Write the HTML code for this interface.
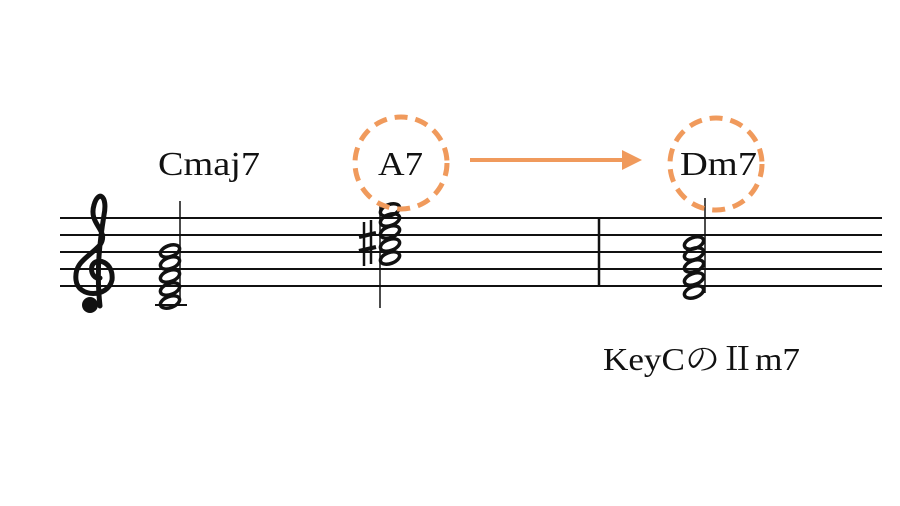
<!DOCTYPE html>
<html><head><meta charset="utf-8"><style>
html,body{margin:0;padding:0;background:#fff;}
svg{display:block}
text{font-family:"Liberation Serif","Noto Serif CJK SC",serif;fill:#111;}
</style></head><body>
<svg width="900" height="506" viewBox="0 0 900 506" xmlns="http://www.w3.org/2000/svg">
<g stroke="#111" stroke-width="2">
<line x1="60" y1="218" x2="882" y2="218"/>
<line x1="60" y1="235" x2="882" y2="235"/>
<line x1="60" y1="252" x2="882" y2="252"/>
<line x1="60" y1="269" x2="882" y2="269"/>
<line x1="60" y1="286" x2="882" y2="286"/>
<line x1="599" y1="217" x2="599" y2="287" stroke-width="2.5"/>
<line x1="155" y1="305" x2="187" y2="305"/>
<line x1="180" y1="201" x2="180" y2="302" stroke-width="1.5"/>
<line x1="380" y1="206" x2="380" y2="308" stroke-width="1.5"/>
<line x1="705" y1="198" x2="705" y2="293" stroke-width="1.5"/>
</g>
<!-- treble clef -->
<g fill="none" stroke="#111" stroke-linecap="round">
<path d="M100 306 C 96 270, 100 240, 104 215 C 108 195, 98 190, 94 205 C 88 225, 110 230, 100 245 C 88 258, 74 262, 76 280 C 78 298, 108 298, 112 280 C 114 262, 96 256, 92 266 C 90 274, 96 280, 100 278" stroke-width="5"/>
</g>
<circle cx="90" cy="305" r="8" fill="#111"/>
<!-- noteheads -->
<g fill="none" stroke="#111" stroke-width="3.5">
<g transform="translate(170,0)">
<ellipse cx="0" cy="302" rx="10" ry="5.5" transform="rotate(-20 0 302)"/>
<ellipse cx="0" cy="289" rx="10" ry="5.5" transform="rotate(-20 0 289)"/>
<ellipse cx="0" cy="276" rx="10" ry="5.5" transform="rotate(-20 0 276)"/>
<ellipse cx="0" cy="263" rx="10" ry="5.5" transform="rotate(-20 0 263)"/>
<ellipse cx="0" cy="251" rx="10" ry="5.5" transform="rotate(-20 0 251)"/>
</g>
<g transform="translate(390,0)">
<ellipse cx="0" cy="258" rx="10" ry="5.5" transform="rotate(-20 0 258)"/>
<ellipse cx="0" cy="245" rx="10" ry="5.5" transform="rotate(-20 0 245)"/>
<ellipse cx="0" cy="232" rx="10" ry="5.5" transform="rotate(-20 0 232)"/>
<ellipse cx="0" cy="220" rx="10" ry="5.5" transform="rotate(-20 0 220)"/>
<ellipse cx="0" cy="210" rx="10" ry="5.5" transform="rotate(-20 0 210)"/>
</g>
<g transform="translate(694,0)">
<ellipse cx="0" cy="292" rx="10" ry="5.5" transform="rotate(-20 0 292)"/>
<ellipse cx="0" cy="279" rx="10" ry="5.5" transform="rotate(-20 0 279)"/>
<ellipse cx="0" cy="266" rx="10" ry="5.5" transform="rotate(-20 0 266)"/>
<ellipse cx="0" cy="254" rx="10" ry="5.5" transform="rotate(-20 0 254)"/>
<ellipse cx="0" cy="243" rx="10" ry="5.5" transform="rotate(-20 0 243)"/>
</g>
</g>
<!-- sharp -->
<g stroke="#111">
<line x1="364" y1="222" x2="364" y2="266" stroke-width="2.5"/>
<line x1="371" y1="220" x2="371" y2="264" stroke-width="2.5"/>
<line x1="359" y1="237" x2="376" y2="233" stroke-width="4"/>
<line x1="359" y1="251" x2="376" y2="247" stroke-width="4"/>
</g>
<!-- circles & arrow -->
<g fill="none" stroke="#F09A5C" stroke-width="5" stroke-dasharray="13 8">
<circle cx="401" cy="163" r="46"/>
<circle cx="716" cy="164" r="46"/>
</g>
<line x1="470" y1="160" x2="625" y2="160" stroke="#F09A5C" stroke-width="4"/>
<polygon points="622,150 642,160 622,170" fill="#F09A5C"/>
<!-- labels -->
<text x="158" y="175" font-size="34" textLength="102" lengthAdjust="spacingAndGlyphs">Cmaj7</text>
<text x="378" y="175" font-size="34" textLength="45" lengthAdjust="spacingAndGlyphs">A7</text>
<text x="680" y="175" font-size="34" textLength="77" lengthAdjust="spacingAndGlyphs">Dm7</text>
<text x="603" y="370" font-size="32" textLength="197" lengthAdjust="spacingAndGlyphs">KeyCのⅡm7</text>
</svg>
</body></html>
